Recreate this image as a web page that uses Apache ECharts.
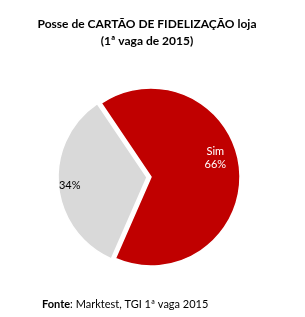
<!DOCTYPE html>
<html>
<head>
<meta charset="utf-8">
<script src="https://cdn.jsdelivr.net/npm/echarts@6/dist/echarts.min.js"></script>
<style>
  html, body { margin: 0; padding: 0; background: #fff; }
  #chart { width: 305px; height: 317px; }
</style>
</head>
<body>
<div id="chart"></div>
<script>
const categories = ['Sim', 'Não']
const values = [66, 34]
const colors = ['#c00000', '#d9d9d9']
const labelOffsets = [[17, -15], [-30, 4]]

const chart = echarts.init(document.getElementById('chart'), null, { renderer: 'canvas' })

const fontFamily = 'Lato, "Open Sans", sans-serif'

const pieData = categories.map((name, i) => {
  const label = {
    color: i === 0 ? '#ffffff' : '#000000',
    offset: labelOffsets[i],
    formatter: i === 0 ? '{b}\n{c}%' : '{c}%'
  }
  return {
    name,
    value: values[i],
    selected: i === 1,
    itemStyle: { color: colors[i] },
    label,
    select: { label, itemStyle: { color: colors[i] } }
  }
})

chart.setOption({
  backgroundColor: '#ffffff',
  animation: false,
  title: [
    {
      text: 'Posse de CARTÃO DE FIDELIZAÇÃO loja\n(1ª vaga de 2015)',
      left: 142,
      top: 11,
      textAlign: 'center',
      textStyle: {
        fontFamily,
        fontSize: 12,
        fontWeight: 'bold',
        color: '#000',
        lineHeight: 17
      }
    },
    {
      text: '{b|Fonte}: Marktest, TGI 1ª vaga 2015',
      left: 37,
      top: 294,
      textStyle: {
        fontFamily,
        fontSize: 11,
        fontWeight: 'normal',
        color: '#000',
        rich: {
          b: { fontFamily, fontSize: 11, fontWeight: 'bold', color: '#000' }
        }
      }
    }
  ],
  series: [
    {
      type: 'pie',
      center: [151, 177],
      radius: [0, 89],
      startAngle: 124,
      clockwise: true,
      selectedMode: 'single',
      selectedOffset: 4,
      itemStyle: { borderColor: '#ffffff', borderWidth: 1.5 },
      label: {
        show: true,
        position: 'inside',
        fontFamily,
        fontSize: 11,
        lineHeight: 13
      },
      labelLine: { show: false },
      emphasis: { disabled: true },
      data: pieData
    }
  ]
})
</script>
</body>
</html>
